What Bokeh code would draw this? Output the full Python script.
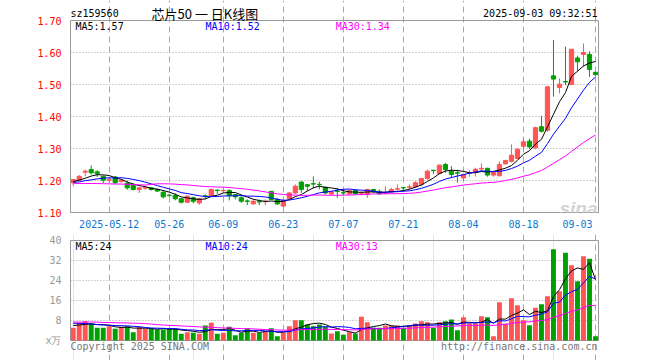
import numpy as np
from bokeh.plotting import figure
from bokeh.models import (Range1d, FixedTicker, PrintfTickFormatter, Grid, Label,
                          ColumnDataSource, LinearAxis)
from bokeh.layouts import column
from bokeh.embed import file_html
from bokeh.resources import INLINE

# ---------------- data ----------------
symbol = "sz159560"
title_text = "芯片50 一 日K线图"
timestamp = "2025-09-03 09:32:51"

tick_index = [6, 16, 25, 35, 45, 55, 65, 75, 87]
tick_labels = ["2025-05-12", "05-26", "06-09", "06-23", "07-07", "07-21", "08-04", "08-18", "09-03"]

price_ticks = [1.10, 1.20, 1.30, 1.40, 1.50, 1.60, 1.70]
price_grid = [1.20, 1.30, 1.40, 1.50, 1.60]
volume_ticks = [0, 8, 16, 24, 32, 40]
volume_grid = [8, 16, 24, 32]

opens = [1.193, 1.201, 1.226, 1.234, 1.227, 1.213, 1.201, 1.211, 1.197, 1.191,
         1.184, 1.172, 1.176, 1.177, 1.172, 1.163, 1.154, 1.153, 1.143, 1.132,
         1.146, 1.130, 1.152, 1.151, 1.170, 1.168, 1.169, 1.156, 1.146, 1.136,
         1.127, 1.134, 1.134, 1.166, 1.141, 1.120, 1.144, 1.161, 1.195, 1.187,
         1.190, 1.188, 1.179, 1.158, 1.167, 1.162, 1.158, 1.169, 1.160, 1.156,
         1.172, 1.166, 1.160, 1.164, 1.173, 1.178, 1.179, 1.180, 1.188, 1.206,
         1.232, 1.222, 1.250, 1.229, 1.224, 1.208, 1.223, 1.225, 1.236, 1.238,
         1.217, 1.215, 1.252, 1.260, 1.269, 1.307, 1.323, 1.302, 1.368, 1.357,
         1.527, 1.491, 1.509, 1.500, 1.583, 1.594, 1.594, 1.538]

highs = [1.205, 1.217, 1.234, 1.247, 1.232, 1.216, 1.207, 1.214, 1.205, 1.200,
         1.190, 1.180, 1.182, 1.180, 1.175, 1.170, 1.159, 1.160, 1.146, 1.154,
         1.150, 1.146, 1.156, 1.175, 1.171, 1.174, 1.172, 1.158, 1.151, 1.141,
         1.141, 1.141, 1.141, 1.168, 1.146, 1.143, 1.164, 1.188, 1.198, 1.189,
         1.213, 1.196, 1.182, 1.168, 1.177, 1.172, 1.172, 1.172, 1.166, 1.174,
         1.174, 1.172, 1.182, 1.177, 1.188, 1.180, 1.188, 1.198, 1.208, 1.234,
         1.233, 1.250, 1.255, 1.245, 1.234, 1.221, 1.232, 1.240, 1.253, 1.240,
         1.229, 1.260, 1.265, 1.313, 1.300, 1.333, 1.331, 1.368, 1.402, 1.493,
         1.639, 1.519, 1.618, 1.611, 1.590, 1.628, 1.604, 1.540]

lows = [1.182, 1.199, 1.213, 1.219, 1.211, 1.192, 1.192, 1.189, 1.193, 1.171,
        1.169, 1.161, 1.170, 1.168, 1.164, 1.144, 1.150, 1.138, 1.128, 1.130,
        1.128, 1.124, 1.141, 1.148, 1.158, 1.161, 1.138, 1.141, 1.130, 1.123,
        1.125, 1.123, 1.123, 1.139, 1.123, 1.117, 1.141, 1.158, 1.161, 1.167,
        1.175, 1.172, 1.156, 1.155, 1.146, 1.153, 1.156, 1.156, 1.154, 1.146,
        1.161, 1.156, 1.156, 1.161, 1.167, 1.169, 1.172, 1.177, 1.182, 1.203,
        1.220, 1.219, 1.224, 1.208, 1.193, 1.198, 1.212, 1.212, 1.227, 1.212,
        1.212, 1.212, 1.250, 1.256, 1.267, 1.295, 1.298, 1.298, 1.350, 1.352,
        1.462, 1.472, 1.498, 1.498, 1.542, 1.555, 1.524, 1.527]

closes = [1.203, 1.213, 1.229, 1.224, 1.221, 1.201, 1.203, 1.193, 1.201, 1.177,
          1.172, 1.177, 1.178, 1.172, 1.167, 1.149, 1.153, 1.143, 1.132, 1.151,
          1.135, 1.143, 1.151, 1.172, 1.169, 1.169, 1.153, 1.149, 1.135, 1.135,
          1.135, 1.133, 1.135, 1.141, 1.127, 1.138, 1.161, 1.182, 1.172, 1.182,
          1.189, 1.187, 1.161, 1.165, 1.166, 1.161, 1.169, 1.158, 1.161, 1.172,
          1.164, 1.158, 1.161, 1.172, 1.174, 1.177, 1.180, 1.193, 1.206, 1.229,
          1.231, 1.248, 1.234, 1.219, 1.223, 1.219, 1.225, 1.235, 1.238, 1.217,
          1.225, 1.250, 1.2625, 1.279, 1.298, 1.321, 1.305, 1.365, 1.354, 1.493,
          1.517, 1.501, 1.508, 1.610, 1.571, 1.600, 1.547, 1.531]

volumes = [5.1, 7.1, 7.7, 6.8, 5.1, 5.1, 5.7, 4.7, 5.5, 5.7,
           3.3, 5.5, 4.7, 4.7, 4.4, 4.4, 4.7, 4.7, 2.7, 3.3,
           3.1, 2.7, 6.0, 7.1, 2.7, 3.1, 5.5, 2.1, 3.1, 4.9,
           3.1, 3.1, 3.7, 4.9, 1.7, 3.1, 5.7, 8.1, 8.1, 6.4,
           5.7, 6.4, 5.5, 2.8, 3.7, 2.3, 3.3, 2.8, 9.5, 7.3,
           5.1, 5.1, 6.0, 6.0, 6.0, 5.1, 6.0, 6.8, 7.7, 7.3,
           5.1, 7.3, 7.7, 8.4, 4.1, 9.3, 6.8, 6.8, 9.7, 9.3,
           1.7, 15.3, 6.8, 16.9, 14.1, 8.1, 6.1, 13.1, 14.5, 17.7,
           36.5, 19.7, 35.1, 30.1, 23.7, 33.7, 32.7, 1.7]

# sessions before the visible window (only feed the moving averages)
pre_closes = [1.24, 1.23, 1.22, 1.23, 1.21, 1.22, 1.21, 1.20, 1.21, 1.19,
              1.20, 1.19, 1.12, 1.11, 1.15, 1.16, 1.17, 1.17, 1.18, 1.19,
              1.20, 1.19, 1.20, 1.19, 1.18, 1.19, 1.20, 1.19, 1.20]
pre_volumes = [7.5, 7.0, 6.8, 7.2, 8.0, 7.4, 6.9, 7.1, 6.5, 6.6,
               7.2, 7.9, 10.5, 11.2, 9.0, 8.2, 7.6, 7.0, 6.8, 6.4,
               7.5, 8.6, 8.0, 7.9, 7.0, 6.1, 6.3, 6.0, 6.4]

ma_periods = [5, 10, 30]
price_ma_text = ["MA5:1.57", "MA10:1.52", "MA30:1.34"]
volume_ma_text = ["MA5:24", "MA10:24", "MA30:13"]
volume_unit = "x万"
footer_left = "Copyright 2025 SINA.COM"
footer_right = "http://finance.sina.com.cn"
watermark = "sina"

# ---------------- styles / layout ----------------
RED = "#ff5555"
GREEN = "#00a000"
MA_COLORS = ["#000000", "#0000ff", "#ff00ff"]
MONO = "DejaVu Sans Mono"
FS = "10px"
GRID_C = "#a8a8a8"
BORDER_C = "#999999"
DATE_C = "#0a78d2"
LAST_LABEL_POS = 84      # last date label is right-shifted against the border
MA_TEXT_X = [0.38, 22.05, 43.72]


def sma(pre, vals, n):
    full = np.array(pre + vals, dtype=float)
    out = np.convolve(full, np.ones(n) / n, mode="valid")
    return out[-len(vals):]


n = len(closes)
idx = np.arange(n)
o = np.array(opens); c = np.array(closes)
colors = [RED if cc >= oo else GREEN for oo, cc in zip(opens, closes)]
src = ColumnDataSource(dict(
    x=idx, o=o, h=np.array(highs), l=np.array(lows), c=c,
    top=np.maximum(o, c), bot=np.minimum(o, c), color=colors,
    vol=np.array(volumes)))

x_range = Range1d(-0.45, 87.5)


def label(fig, x, y, text, color="#000000", align="left", size=FS, font=MONO, **kw):
    fig.add_layout(Label(x=x, y=y, text=text, text_color=color, text_align=align,
                         text_baseline="middle", text_font=font, text_font_size=size, **kw))


def style_axis(ax, col):
    ax.major_tick_line_color = None
    ax.minor_tick_line_color = None
    ax.major_label_text_color = col
    ax.major_label_text_font = MONO
    ax.major_label_text_font_size = FS


def right_border(fig, lo, hi):
    ax = LinearAxis(ticker=FixedTicker(ticks=[]), bounds=(lo, hi),
                    axis_line_color=BORDER_C, major_label_text_font_size="0px")
    ax.major_tick_line_color = None
    ax.minor_tick_line_color = None
    fig.add_layout(ax, "right")


# ---------------- price panel ----------------
p1 = figure(width=660, height=232, x_range=x_range, y_range=Range1d(1.10, 1.7625),
            output_backend="svg", toolbar_location=None, tools="",
            min_border_left=70, min_border_right=62, min_border_top=0, min_border_bottom=20)
p1.background_fill_color = "white"
p1.border_fill_color = "white"
p1.outline_line_color = None

p1.yaxis.ticker = FixedTicker(ticks=price_ticks)
p1.yaxis.formatter = PrintfTickFormatter(format="%.2f")
p1.yaxis.bounds = (1.10, 1.70)
p1.yaxis.axis_line_color = BORDER_C
p1.yaxis.major_label_standoff = 3
style_axis(p1.yaxis, "#ff0000")

label_pos = tick_index[:-1] + [LAST_LABEL_POS]
p1.xaxis.ticker = FixedTicker(ticks=label_pos)
p1.xaxis.major_label_overrides = {t: s for t, s in zip(label_pos, tick_labels)}
p1.xaxis.axis_line_color = BORDER_C
p1.xaxis.major_label_standoff = 1
style_axis(p1.xaxis, DATE_C)
right_border(p1, 1.10, 1.70)

p1.xgrid.ticker = FixedTicker(ticks=tick_index)
p1.xgrid.grid_line_color = GRID_C
p1.xgrid.grid_line_dash = "6 4"
p1.xgrid.bounds = (1.10, 1.70)
p1.ygrid.ticker = FixedTicker(ticks=price_grid)
p1.ygrid.grid_line_color = GRID_C
p1.ygrid.grid_line_dash = "1 2"
p1.add_layout(Grid(dimension=1, ticker=FixedTicker(ticks=[price_ticks[-1]]),
                   grid_line_color=BORDER_C))

p1.segment(x0="x", y0="l", x1="x", y1="h", line_color="color", line_width=1, source=src)
p1.vbar(x="x", width=0.7, top="top", bottom="bot", fill_color="color",
        line_color="color", line_width=1, source=src)
for per, col in zip(ma_periods, MA_COLORS):
    p1.line(idx, sma(pre_closes, closes, per), line_color=col, line_width=1)

label(p1, -0.45, 1.7219, symbol)
label(p1, 13.05, 1.7225, title_text, font="Noto Sans CJK SC", size="13px")
label(p1, 87.33, 1.7219, timestamp, align="right")
for xx, t, col in zip(MA_TEXT_X, price_ma_text, MA_COLORS):
    label(p1, xx, 1.6797, t, color=col)
label(p1, 87.33, 1.1125, watermark, color="#d4d4d4", align="right", size="19px",
      font="Liberation Sans", text_font_style="bold italic")

# ---------------- volume panel ----------------
p2 = figure(width=660, height=128, x_range=x_range, y_range=Range1d(-8, 42.4),
            output_backend="svg", toolbar_location=None, tools="", x_axis_location=None,
            min_border_left=70, min_border_right=62, min_border_top=2, min_border_bottom=0)
p2.background_fill_color = "white"
p2.border_fill_color = "white"
p2.outline_line_color = None
p2.yaxis.ticker = FixedTicker(ticks=volume_ticks)
p2.yaxis.major_label_overrides = {0: volume_unit}
p2.yaxis.bounds = (0, 40)
p2.yaxis.axis_line_color = BORDER_C
p2.yaxis.major_label_standoff = 3
style_axis(p2.yaxis, "#999999")
right_border(p2, 0, 40)

p2.ygrid.ticker = FixedTicker(ticks=volume_grid)
p2.ygrid.grid_line_color = GRID_C
p2.ygrid.grid_line_dash = "1 2"
p2.add_layout(Grid(dimension=1, ticker=FixedTicker(ticks=[0, 40]), grid_line_color=BORDER_C))
p2.add_layout(Grid(dimension=0, ticker=FixedTicker(ticks=tick_index), bounds=(0, 40),
                   grid_line_color=GRID_C, grid_line_dash="6 4"))

p2.vbar(x="x", width=0.82, top="vol", bottom=0, fill_color="color", line_color=None, source=src)
for per, col in zip(ma_periods, MA_COLORS):
    p2.line(idx, sma(pre_volumes, volumes, per), line_color=col, line_width=1)

for xx, t, col in zip(MA_TEXT_X, volume_ma_text, MA_COLORS):
    label(p2, xx, 37.6, t, color=col)
label(p2, -0.45, -2.4, footer_left, color="#777777")
label(p2, 87.33, -2.4, footer_right, color="#777777", align="right")

layout = column(p1, p2)
open("out.html", "w").write(file_html(layout, INLINE))
